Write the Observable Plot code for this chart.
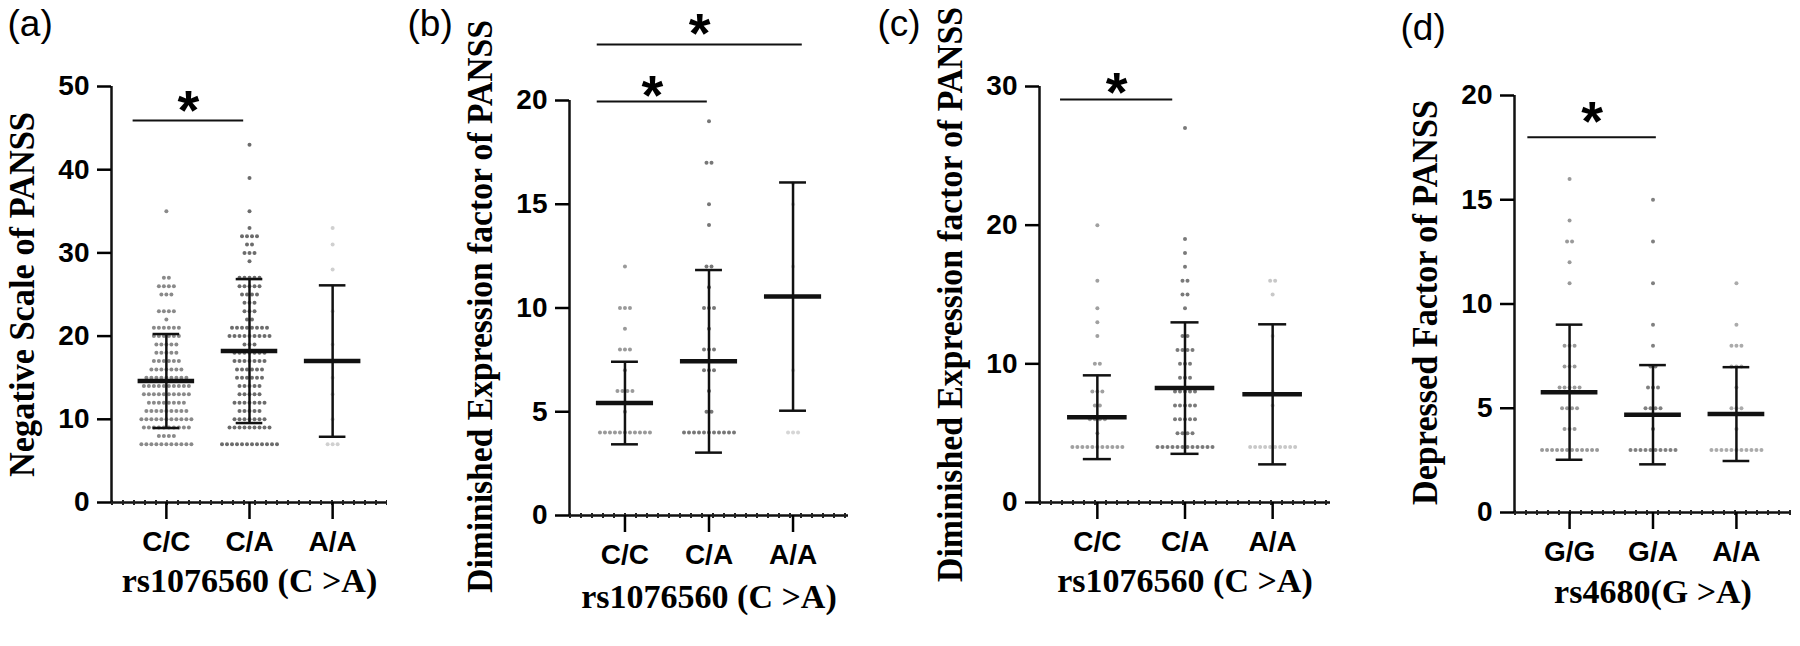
<!DOCTYPE html>
<html><head><meta charset="utf-8">
<script src="https://cdn.jsdelivr.net/npm/d3@7"></script>
<script src="https://cdn.jsdelivr.net/npm/@observablehq/plot@0.6"></script>
<style>
html,body{margin:0;padding:0;background:#fff;}
#wrap{position:relative;width:1800px;height:646px;overflow:hidden;background:#fff;}
#wrap > div{position:absolute;top:0;}
</style></head><body><div id="wrap"></div>
<script>
// ---------- DATA ----------
const genotypesDRD2 = ["C/C", "C/A", "A/A"];
const genotypesCOMT = ["G/G", "G/A", "A/A"];

// [score, number of patients]
const aCC = [[35,1],[27,2],[26,4],[25,3],[23,4],[22,1],[21,6],[20,6],[19,5],[18,5],[17,6],[16,7],[15,9],[14,10],[13,10],[12,8],[11,9],[10,11],[9,10],[8,4],[7,11]];
const aCA = [[43,1],[39,1],[35,1],[33,1],[32,4],[31,2],[30,3],[29,1],[27,5],[26,5],[25,4],[24,3],[23,3],[22,2],[21,8],[20,9],[19,3],[18,7],[17,7],[16,6],[15,6],[14,5],[13,5],[12,7],[11,5],[10,7],[9,9],[7,12]];
const aAA = [[33,1],[31,1],[28,1],[23,1],[19,1],[15,1],[13,1],[10,1],[7,3]];
const aMean = [14.6, 18.2, 17.0];
const aSD = [5.65, 8.65, 9.1];
const aTicks = [0, 10, 20, 30, 40, 50];
const aSig = [{from: -0.40, to: 0.93, y: 45.9, star: 48.0}];

const bCC = [[12,1],[10,3],[9,1],[8,3],[7,1],[6,4],[5,1],[4,11]];
const bCA = [[19,1],[17,2],[15,1],[14,1],[12,2],[11,1],[10,3],[9,1],[8,3],[7,3],[6,1],[5,2],[4,11]];
const bAA = [[16,1],[15,1],[12,1],[7,1],[4,3]];
const bMean = [5.42, 7.43, 10.55];
const bSD = [1.99, 4.4, 5.5];
const bTicks = [0, 5, 10, 15, 20];
const bSig = [{from: -0.33, to: 0.98, y: 19.95, star: 20.6}, {from: -0.33, to: 2.11, y: 22.7, star: 23.6}];

const cCC = [[20,1],[16,1],[14,1],[13,1],[12,1],[10,2],[8,3],[7,2],[6,4],[5,1],[4,11]];
const cCA = [[27,1],[19,1],[18,1],[17,1],[16,2],[15,2],[14,1],[12,2],[11,4],[10,3],[9,3],[8,5],[7,5],[6,5],[5,4],[4,12]];
const cAA = [[16,2],[15,1],[12,1],[8,1],[7,1],[4,10]];
const cMean = [6.15, 8.25, 7.8];
const cSD = [3.02, 4.74, 5.05];
const cTicks = [0, 10, 20, 30];
const cSig = [{from: -0.42, to: 0.86, y: 29.06, star: 30.1}];

const dGG = [[16,1],[14,1],[13,2],[12,1],[11,1],[8,3],[7,3],[6,5],[5,4],[4,3],[3,12]];
const dGA = [[15,1],[13,1],[11,1],[9,1],[8,1],[7,2],[6,3],[5,4],[4,1],[3,10]];
const dAA = [[11,1],[9,1],[8,3],[7,3],[6,1],[5,3],[4,1],[3,11]];
const dMean = [5.77, 4.69, 4.72];
const dSD = [3.24, 2.38, 2.25];
const dTicks = [0, 5, 10, 15, 20];
const dSig = [{from: -0.50, to: 1.04, y: 18.0, star: 19.1}];

const panelLabels = ["(a)", "(b)", "(c)", "(d)"];
const yTitles = ["Negative Scale of PANSS", "Diminished Expression factor of PANSS", "Diminished Expression factor of PANSS", "Depressed Factor of PANSS"];
const xTitles = ["rs1076560 (C >A)", "rs1076560 (C >A)", "rs1076560 (C >A)", "rs4680(G >A)"];

// ---------- LAYOUT / STYLE ----------
const PAD = 0.66;
const H = 646;
const panels = [
  {groups: genotypesDRD2, series: [aCC, aCA, aAA], mean: aMean, sd: aSD, ticks: aTicks, sig: aSig,
   L: 0, W: 400, axisX: 111, xEnd: 387, yTop: 86, yZero: 502, labelX: 7, labelY: 24, titleLen: 365, titleMid: 294, xTitleY: 581,
   colors: ["#8a8a8a", "#6c6c6c", "#d0d0d0"]},
  {groups: genotypesDRD2, series: [bCC, bCA, bAA], mean: bMean, sd: bSD, ticks: bTicks, sig: bSig,
   L: 400, W: 460, axisX: 569, xEnd: 848, yTop: 100, yZero: 515, labelX: 407, labelY: 24, titleLen: 573, titleMid: 306, xTitleY: 597,
   colors: ["#9a9a9a", "#777777", "#d6d6d6"]},
  {groups: genotypesDRD2, series: [cCC, cCA, cAA], mean: cMean, sd: cSD, ticks: cTicks, sig: cSig,
   L: 860, W: 480, axisX: 1039, xEnd: 1330, yTop: 86, yZero: 502, labelX: 877, labelY: 24, titleLen: 575, titleMid: 294, xTitleY: 581,
   colors: ["#a0a0a0", "#7a7a7a", "#c8c8c8"]},
  {groups: genotypesCOMT, series: [dGG, dGA, dAA], mean: dMean, sd: dSD, ticks: dTicks, sig: dSig,
   L: 1340, W: 460, axisX: 1514, xEnd: 1791, yTop: 95, yZero: 512, labelX: 1400, labelY: 28, titleLen: 405, titleMid: 302, xTitleY: 592,
   colors: ["#9a9a9a", "#808080", "#ababab"]}
];

const SANS = "Liberation Sans, Arial, Helvetica, sans-serif";
const SERIF = "Liberation Serif, Times New Roman, serif";

panels.forEach((p, pi) => {
  const step = (p.xEnd - p.axisX) / (2 + 2 * PAD);
  const du = 5 / step;
  const stats = p.mean.map((m, i) => ({i, mean: m, lo: m - p.sd[i], hi: m + p.sd[i]}));
  const top = p.ticks[p.ticks.length - 1];
  const dotMarks = p.series.map((rows, gi) => {
    const pts = [];
    rows.forEach(([v, n]) => { for (let k = 0; k < n; k++) pts.push({x: gi + (k - (n - 1) / 2) * du, y: v}); });
    return Plot.dot(pts, {x: "x", y: "y", r: 2, fill: p.colors[gi], stroke: "none"});
  });
  const chart = Plot.plot({
    width: p.W, height: H,
    marginLeft: p.axisX - p.L, marginRight: p.W - (p.xEnd - p.L),
    marginTop: p.yTop, marginBottom: H - p.yZero,
    style: {background: "transparent", overflow: "visible"},
    x: {domain: [-PAD, 2 + PAD], axis: null},
    y: {domain: [0, top], axis: null},
    marks: [
      ...dotMarks,
      Plot.ruleY([0], {stroke: "#111", strokeWidth: 2.5}),
      Plot.ruleY([0], {stroke: "#222", strokeWidth: 5, strokeDasharray: "2,9"}),
      Plot.ruleX([-PAD], {y1: 0, y2: top, stroke: "#111", strokeWidth: 2.5}),
      Plot.axisY({ticks: p.ticks, tickSize: 14, tickPadding: 8, fontSize: 28, fontWeight: "bold", fontFamily: SANS, strokeWidth: 2.5, label: null}),
      Plot.axisX({ticks: [0, 1, 2], tickFormat: i => p.groups[i], tickSize: 17, tickPadding: 12, fontSize: 28, fontWeight: "bold", fontFamily: SANS, strokeWidth: 2.5, label: null}),
      Plot.ruleX(stats, {x: "i", y1: "lo", y2: "hi", stroke: "#111", strokeWidth: 2.5}),
      Plot.ruleY(stats, {y: "hi", x1: d => d.i - 0.16, x2: d => d.i + 0.16, stroke: "#111", strokeWidth: 2.5}),
      Plot.ruleY(stats, {y: "lo", x1: d => d.i - 0.16, x2: d => d.i + 0.16, stroke: "#111", strokeWidth: 2.5}),
      Plot.ruleY(stats, {y: "mean", x1: d => d.i - 0.34, x2: d => d.i + 0.34, stroke: "#111", strokeWidth: 4.5}),
      Plot.ruleY(p.sig, {y: "y", x1: "from", x2: "to", stroke: "#111", strokeWidth: 2}),
      Plot.text(p.sig, {x: d => (d.from + d.to) / 2, y: "star", text: () => "*", fontSize: 56, fontWeight: "bold", fontFamily: SANS, lineAnchor: "middle", dy: 8}),
      Plot.text([yTitles[pi]], {text: d => d, frameAnchor: "top-left", textAnchor: "middle", lineAnchor: "middle", rotate: -90, dx: -89, dy: p.titleMid - p.yTop, fontSize: 36, fontWeight: "bold", fontFamily: SERIF}),
      Plot.text([xTitles[pi]], {text: d => d, frameAnchor: "bottom", textAnchor: "middle", lineAnchor: "middle", dy: p.xTitleY - p.yZero, fontSize: 34, fontWeight: "bold", fontFamily: SERIF}),
      Plot.text([panelLabels[pi]], {text: d => d, frameAnchor: "top-left", lineAnchor: "middle", textAnchor: "start", dx: p.labelX - p.axisX, dy: p.labelY - p.yTop, fontSize: 37, fontFamily: SANS})
    ]
  });
  const holder = document.createElement("div");
  holder.style.left = p.L + "px";
  holder.style.width = p.W + "px";
  holder.appendChild(chart);
  document.getElementById("wrap").appendChild(holder);
  // condense the rotated title to the reference length
  chart.querySelectorAll("text").forEach(t => {
    if (t.textContent === yTitles[pi]) {
      const natural = t.getComputedTextLength();
      const k = natural > 0 ? p.titleLen / natural : 1;
      const tr = t.getAttribute("transform") || "";
      t.setAttribute("transform", tr + ` scale(${k.toFixed(4)},1)`);
    }
  });
});
</script>
</body></html>
